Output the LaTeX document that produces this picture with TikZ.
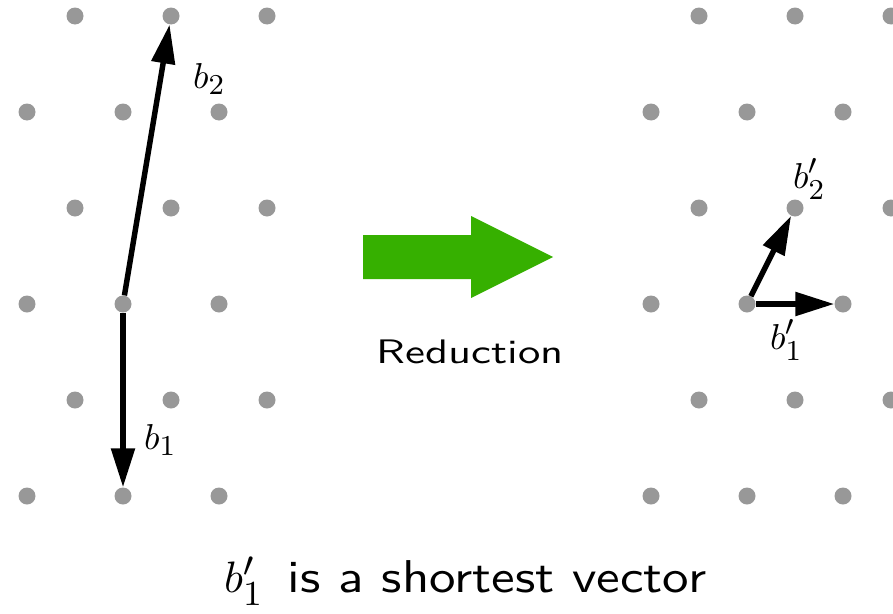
\documentclass[tikz,border=0pt]{standalone}
\usetikzlibrary{arrows.meta}
\DeclareMathSizes{10}{10}{8}{6}
\definecolor{dotgrey}{RGB}{152,152,152}
\definecolor{arrowgreen}{RGB}{54,176,0}
\begin{document}
\begin{tikzpicture}[x=1pt,y=-1pt,
  latticept/.style={circle,fill=dotgrey,minimum size=17pt,inner sep=0pt},
  vec/.style={line width=5.5pt,-{Triangle[length=39pt,width=23pt]}},
  veclabel/.style={inner sep=0pt,anchor=base west},
  captext/.style={inner sep=0pt}]
\useasboundingbox (0,0) rectangle (893,613);
% lattices
\foreach \r in {0,...,5}{
  \pgfmathtruncatemacro{\ev}{mod(\r+1,2)}
  \foreach \c in {0,1,2}{
    \pgfmathsetmacro{\yy}{16+96*\r}
    \pgfmathsetmacro{\xl}{27+48*\ev+96*\c}
    \pgfmathsetmacro{\xr}{651+48*\ev+96*\c}
    \node[latticept] (L-\r-\c) at (\xl,\yy) {};
    \node[latticept] (R-\r-\c) at (\xr,\yy) {};
  }
}
% basis vectors
\draw[vec] (L-3-1) -- (L-0-1);
\draw[vec] (L-3-1) -- (L-5-1);
\draw[vec] (R-3-1) -- (R-2-1);
\draw[vec] (R-3-1) -- (R-3-2);
% labels
\node[veclabel] (lb2) at (193,88) {\scalebox{3.6}{$b_2$}};
\node[veclabel] (lb1) at (144,449) {\scalebox{3.6}{$b_1$}};
\node[veclabel] (lb2p) at (793,188) {\scalebox{3.6}{$b'_2$}};
\node[veclabel] (lb1p) at (770,349) {\scalebox{3.6}{$b'_1$}};
% big green arrow
\fill[arrowgreen] (363,235) -- (471,235) -- (471,216) -- (553,257) -- (471,298) -- (471,279) -- (363,279) -- cycle;
\node[captext,anchor=base] (red) at (470.5,363) {\scalebox{4.47}[3.4]{\sffamily Reduction}};
\node[captext,anchor=base west] (cap) at (224,592) {\scalebox{4.4}{$b'_1$}\hspace*{24pt}\scalebox{5.3}[4.6]{\sffamily is a shortest vector}};
\end{tikzpicture}
\end{document}
